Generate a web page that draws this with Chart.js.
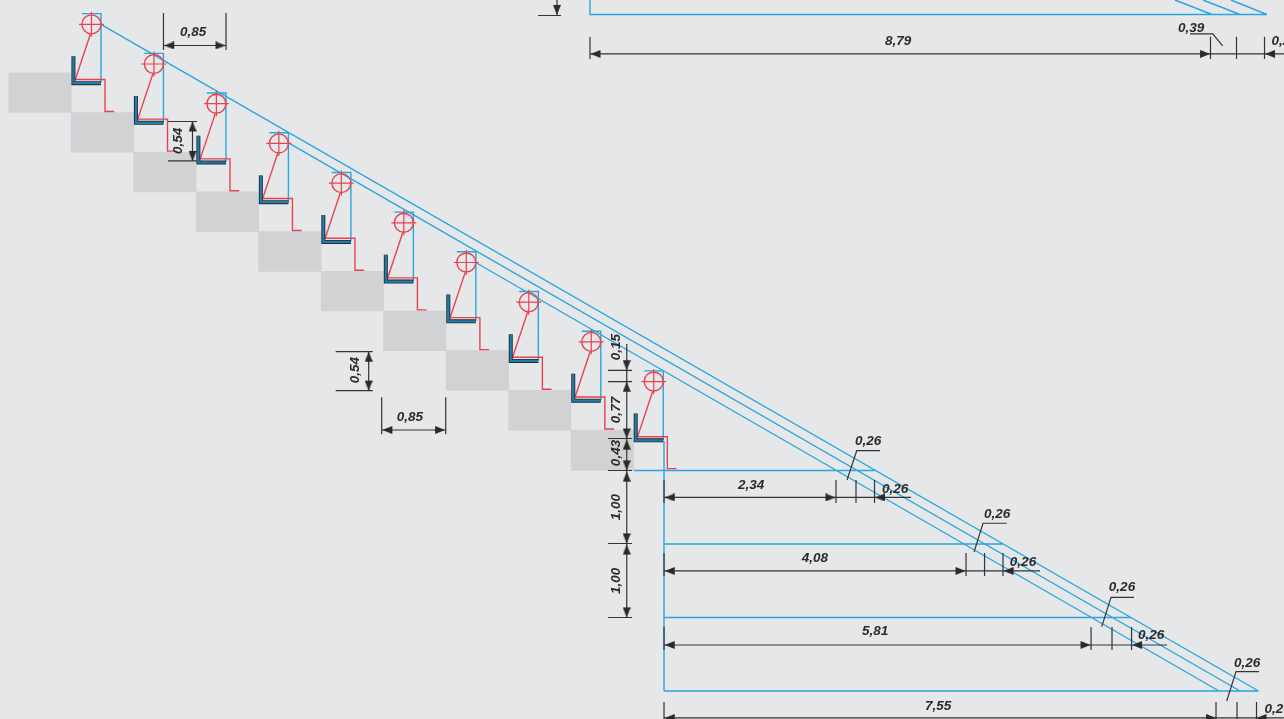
<!DOCTYPE html>
<html>
<head>
<meta charset="utf-8">
<title>Stair section</title>
<script src="https://cdn.jsdelivr.net/npm/chart.js@4"></script>
<style>
  html, body { margin: 0; padding: 0; background: #e6e7e9; overflow: hidden; }
  canvas { display: block; }
</style>
</head>
<body>
<canvas id="stairChart" width="1284" height="719"></canvas>
<script>
// everything is in metres, origin at foot of the stair well
const viewX = [-9.034, 8.435]
const viewY = [-0.381, 9.401]

// concrete steps
const stepCentre = [-8.49, -7.64, -6.79, -5.94, -5.09, -4.24, -3.39, -2.54, -1.69, -0.84]
const stepTop = [8.41, 7.87, 7.33, 6.79, 6.25, 5.71, 5.17, 4.63, 4.09, 3.55]
const stepBottom = [7.87, 7.33, 6.79, 6.25, 5.71, 5.17, 4.63, 4.09, 3.55, 3.00]

// spectators (centre of the head circle)
const headX = [-7.79, -6.94, -6.09, -5.24, -4.39, -3.54, -2.69, -1.84, -0.99, -0.14]
const headY = [9.07, 8.53, 7.99, 7.45, 6.91, 6.37, 5.83, 5.29, 4.75, 4.21]
const sightOffset = [[-0.13, 0.145], [0.13, 0.145], [0.13, -0.795]]
const seatOffset = [[-0.245, -0.435], [-0.245, -0.80], [0.13, -0.80]]
const bodyOffset = [[-0.015, -0.135], [-0.22, -0.75], [0.185, -0.75], [0.185, -1.185], [0.31, -1.185]]

// sight lines, levels and the plan at the top
const blueLines = [
  [[-7.673, 9.075], [8.088, 0]],
  [[-5.109, 7.456], [7.837, 0]],
  [[-2.551, 5.823], [7.551, 0]],
  [[0, 3.40], [0, 0]],
  [[-0.408, 3.0], [2.871, 3.0]],
  [[0, 2.0], [4.612, 2.0]],
  [[0, 1.0], [6.354, 1.0]],
  [[0, 0], [8.088, 0]],
  [[-1.007, 9.401], [-1.007, 9.204], [8.204, 9.204]],
  [[6.952, 9.401], [7.456, 9.204]],
  [[7.333, 9.401], [7.837, 9.204]],
  [[7.714, 9.401], [8.204, 9.204]]
]

// dimension lines, extension ticks and leaders
const dimLines = [
  // top plan
  [[-1.456, 9.401], [-1.456, 9.197]],
  [[-1.714, 9.190], [-1.401, 9.190]],
  [[-1.007, 8.667], [8.435, 8.667]],
  [[-1.007, 8.898], [-1.007, 8.599]],
  [[7.435, 8.902], [7.435, 8.599]],
  [[7.789, 8.902], [7.789, 8.599]],
  [[8.170, 8.902], [8.170, 8.599]],
  [[7.156, 8.939], [7.465, 8.939], [7.601, 8.776]],
  // tread and riser
  [[-6.810, 9.224], [-6.810, 8.721]],
  [[-5.959, 9.224], [-5.959, 8.721]],
  [[-6.810, 8.782], [-5.959, 8.782]],
  [[-6.748, 7.748], [-6.354, 7.748]],
  [[-6.748, 7.211], [-6.354, 7.211]],
  [[-6.415, 7.748], [-6.415, 7.211]],
  [[-4.467, 4.616], [-3.963, 4.616]],
  [[-4.467, 4.086], [-3.963, 4.086]],
  [[-4.018, 4.616], [-4.018, 4.086]],
  [[-3.841, 3.996], [-3.841, 3.492]],
  [[-2.970, 3.996], [-2.970, 3.492]],
  [[-3.841, 3.551], [-2.970, 3.551]],
  // vertical stack
  [[-0.507, 4.721], [-0.507, 0.993]],
  [[-0.762, 4.363], [-0.435, 4.363]],
  [[-0.762, 4.208], [-0.435, 4.208]],
  [[-0.762, 3.435], [-0.435, 3.435]],
  [[-0.762, 3.0], [-0.435, 3.0]],
  [[-0.762, 2.007], [-0.435, 2.007]],
  [[-0.762, 1.0], [-0.435, 1.0]],
  // row 1
  [[0, 2.633], [3.361, 2.633]],
  [[0, 2.871], [0, 2.558]],
  [[2.340, 2.871], [2.340, 2.558]],
  [[2.612, 2.871], [2.612, 2.558]],
  [[2.864, 2.871], [2.864, 2.558]],
  [[2.939, 3.269], [2.622, 3.269], [2.490, 2.871]],
  // row 2
  [[0, 1.633], [5.116, 1.633]],
  [[0, 1.878], [0, 1.565]],
  [[4.109, 1.878], [4.109, 1.565]],
  [[4.361, 1.878], [4.361, 1.565]],
  [[4.612, 1.878], [4.612, 1.565]],
  [[4.663, 2.282], [4.340, 2.282], [4.218, 1.891]],
  // row 3
  [[0, 0.626], [6.844, 0.626]],
  [[0, 0.871], [0, 0.558]],
  [[5.810, 0.871], [5.810, 0.558]],
  [[6.095, 0.871], [6.095, 0.558]],
  [[6.361, 0.871], [6.361, 0.558]],
  [[6.395, 1.275], [6.082, 1.275], [5.955, 0.875]],
  // row 4
  [[0, -0.367], [8.435, -0.367]],
  [[0, -0.150], [0, -0.381]],
  [[7.510, -0.150], [7.510, -0.381]],
  [[7.796, -0.150], [7.796, -0.381]],
  [[8.061, -0.150], [8.061, -0.381]],
  [[8.095, 0.263], [7.782, 0.263], [7.656, -0.136]]
]

// arrow tips, direction in degrees (0 up, 90 right, 180 down, 270 left)
const arrowX = [-1.456, -1.0, 7.429, 8.177, -6.80, -5.966, -6.415, -6.415, -4.018, -4.018, -3.832, -2.978,
  -0.507, -0.507, -0.507, -0.507, -0.507, -0.507, -0.507, -0.507, -0.507,
  0.01, 2.333, 2.870, 0.01, 4.102, 4.620, 0.01, 5.803, 6.368, 0.01, 7.510, 8.061]
const arrowY = [9.197, 8.667, 8.667, 8.667, 8.782, 8.782, 7.748, 7.211, 4.616, 4.086, 3.551, 3.551,
  4.363, 4.208, 3.435, 3.420, 3.0, 2.985, 2.007, 1.993, 1.0,
  2.633, 2.633, 2.633, 1.633, 1.633, 1.633, 0.626, 0.626, 0.626, -0.367, -0.367, -0.367]
const arrowDir = [180, 270, 90, 270, 270, 90, 0, 180, 0, 180, 270, 90,
  180, 0, 180, 0, 180, 0, 180, 0, 180,
  270, 90, 270, 270, 90, 270, 270, 90, 270, 270, 90, 270]

const labelText = ['0,85', '0,54', '0,54', '0,85', '0,15', '0,77', '0,43', '1,00', '1,00',
  '2,34', '4,08', '5,81', '7,55', '8,79', '0,39',
  '0,26', '0,26', '0,26', '0,26', '0,26', '0,26', '0,26', '0,26', '0,26']
const labelX = [-6.408, -6.612, -4.204, -3.456, -0.653, -0.653, -0.653, -0.653, -0.653,
  1.184, 2.054, 2.871, 3.728, 3.184, 7.170,
  2.776, 3.143, 4.531, 4.884, 6.231, 6.626, 7.932, 8.347, 8.442]
const labelY = [8.966, 7.483, 4.367, 3.728, 4.680, 3.823, 3.238, 2.503, 1.497,
  2.803, 1.810, 0.816, -0.204, 8.844, 9.020,
  3.401, 2.748, 2.408, 1.755, 1.415, 0.762, 0.381, -0.245, 8.844]
const labelAngle = [0, -90, -90, 0, -90, -90, -90, -90, -90,
  0, 0, 0, 0, 0, 0,
  0, 0, 0, 0, 0, 0, 0, 0, 0]

const BLUE = '#29a6de'
const RED = '#e9424f'
const DARK = '#333436'

// polylines -> one dataset, null breaks the line
function joinLines(lines) {
  let out = []
  lines.forEach(line => {
    line.forEach(p => out.push({ x: p[0], y: p[1] }))
    out.push({ x: null, y: null })
  })
  return out
}

function figureLines(offset) {
  return headX.map((hx, i) => offset.map(o => [hx + o[0], headY[i] + o[1]]))
}

function lineSet(lines, color, width, order) {
  return {
    type: 'scatter',
    showLine: true,
    data: joinLines(lines),
    borderColor: color,
    borderWidth: width,
    borderCapStyle: 'butt',
    borderJoinStyle: 'miter',
    pointRadius: 0,
    tension: 0,
    spanGaps: false,
    order: order
  }
}

// arrow head with its tip in the middle of the image, so the point is the tip
function makeArrow() {
  let c = document.createElement('canvas')
  c.width = 8
  c.height = 22
  let g = c.getContext('2d')
  g.fillStyle = '#2a2a2c'
  g.beginPath()
  g.moveTo(4, 11)
  g.lineTo(8, 21)
  g.lineTo(0, 21)
  g.closePath()
  g.fill()
  return c
}

const labelPlugin = {
  id: 'dimLabels',
  afterDatasetsDraw(chart) {
    let ctx = chart.ctx
    ctx.save()
    ctx.font = 'italic bold 13.5px "Liberation Sans", Arial, sans-serif'
    ctx.fillStyle = '#2b2b2d'
    ctx.textAlign = 'center'
    ctx.textBaseline = 'middle'
    labelText.forEach((t, i) => {
      ctx.save()
      ctx.translate(chart.scales.x.getPixelForValue(labelX[i]), chart.scales.y.getPixelForValue(labelY[i]))
      ctx.rotate(labelAngle[i] * Math.PI / 180)
      ctx.fillText(t, 0, 0)
      ctx.restore()
    })
    ctx.restore()
  }
}

const heads = headX.map((x, i) => ({ x: x, y: headY[i] }))

new Chart(document.getElementById('stairChart'), {
  type: 'scatter',
  data: {
    datasets: [
      {
        type: 'bar',
        data: stepCentre.map((x, i) => ({ x: x, y: [stepBottom[i], stepTop[i]] })),
        backgroundColor: '#d1d2d4',
        borderWidth: 0,
        barPercentage: 1,
        categoryPercentage: 1,
        grouped: false,
        order: 20
      },
      lineSet(blueLines, BLUE, 1.4, 10),
      lineSet(figureLines(sightOffset), BLUE, 1.4, 9),
      lineSet(figureLines(bodyOffset), RED, 1.4, 8),
      lineSet(figureLines(seatOffset), '#26292d', 4, 7),
      lineSet(figureLines(seatOffset), '#1c7fb0', 2.2, 6),
      {
        type: 'scatter',
        data: heads,
        pointStyle: 'circle',
        pointRadius: 9.5,
        pointBorderColor: RED,
        pointBorderWidth: 1.4,
        pointBackgroundColor: 'rgba(0,0,0,0)',
        order: 5
      },
      {
        type: 'scatter',
        data: heads,
        pointStyle: 'cross',
        pointRadius: 12.5,
        pointBorderColor: RED,
        pointBorderWidth: 1.2,
        order: 4
      },
      lineSet(dimLines, DARK, 1.2, 3),
      {
        type: 'scatter',
        data: arrowX.map((x, i) => ({ x: x, y: arrowY[i] })),
        pointStyle: makeArrow(),
        pointRotation: arrowDir,
        pointRadius: 5,
        order: 2
      }
    ]
  },
  options: {
    responsive: false,
    animation: false,
    layout: { padding: 0, autoPadding: false },
    events: [],
    plugins: { legend: { display: false }, tooltip: { enabled: false } },
    scales: {
      x: { type: 'linear', display: false, offset: false, min: viewX[0], max: viewX[1] },
      y: { type: 'linear', display: false, min: viewY[0], max: viewY[1] }
    }
  },
  plugins: [labelPlugin]
})
</script>
</body>
</html>
